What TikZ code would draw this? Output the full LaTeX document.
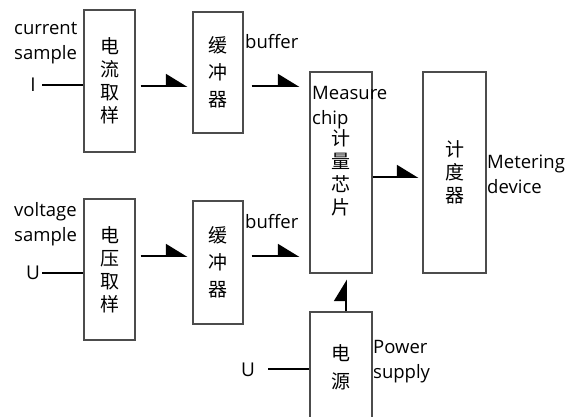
\documentclass[tikz,border=0pt]{standalone}
\usepackage{fontspec}
\setmainfont{Open Sans}
\newfontfamily\cjk{Noto Sans CJK SC}
\usetikzlibrary{positioning, arrows.meta}

\begin{document}
\begin{tikzpicture}[
    x=1pt, y=-1pt,
    block/.style={draw=black!70, line width=1.2pt, inner sep=0pt, align=center, font=\cjk\fontsize{19}{23}\selectfont},
    lbl/.style={inner sep=0pt, align=left, anchor=west, font=\fontsize{18.5}{25}\selectfont},
    src/.style={inner sep=0pt, font=\fontsize{19}{24}\selectfont},
    wire/.style={line width=1.7pt},
    arr/.style={-{Triangle[harpoon, length=20pt, width=24pt]}, line width=1.8pt, shorten <=5pt, shorten >=5pt}
  ]
    \useasboundingbox (0,0) rectangle (574,416);

    % current path
    \node[block, minimum width=51pt, minimum height=142pt] (curSample) at (109.5,81) {电\\流\\取\\样};
    \node[block, minimum width=50pt, minimum height=121pt, font=\cjk\fontsize{19}{27}\selectfont] (curBuf) at (218,72.5) {缓\\冲\\器};
    \node[src, minimum width=18pt] (inI) at (33,85) {I};
    \node[lbl] (curTxt) at (14,43) {current\\sample};
    \node[lbl] (curBufTxt) at (245,42) {buffer};

    % voltage path
    \node[block, minimum width=51pt, minimum height=141pt] (volSample) at (109.5,269.5) {电\\压\\取\\样};
    \node[block, minimum width=50pt, minimum height=123pt, font=\cjk\fontsize{19}{27}\selectfont] (volBuf) at (218,262.5) {缓\\冲\\器};
    \node[src, minimum width=18pt] (inU) at (33,273) {U};
    \node[lbl] (volTxt) at (14,224) {voltage\\sample};
    \node[lbl] (volBufTxt) at (245,222) {buffer};

    % chip, meter, supply
    \node[block, minimum width=62pt, minimum height=201pt] (chip) at (341,172.5) {计\\量\\芯\\片};
    \node[lbl] (chipTxt) at (312,108) {Measure\\chip};
    \node[block, minimum width=63pt, minimum height=201pt] (meter) at (454.5,172.5) {计\\度\\器};
    \node[lbl] (meterTxt) at (487,174) {Metering\\device};
    \node[block, minimum width=62pt, minimum height=110pt, font=\cjk\fontsize{19}{28}\selectfont] (power) at (341,367) {电\\源};
    \node[lbl] (powerTxt) at (373,362) {Power\\supply};
    \node[src, minimum width=40pt] (inP) at (248,370) {U};

    % connections
    \draw[wire] (inI) -- (curSample.west |- inI);
    \draw[wire] (inU) -- (volSample.west |- inU);
    \draw[wire] (inP.east |- 0,369) -- (power.west |- 0,369);
    \draw[arr] (curSample.east |- 0,86) -- (curBuf.west |- 0,86);
    \draw[arr, shorten <=8pt, shorten >=10pt] (curBuf.east |- 0,86) -- (chip.west |- 0,86);
    \draw[arr] (volSample.east |- 0,256) -- (volBuf.west |- 0,256);
    \draw[arr, shorten <=8pt, shorten >=10pt] (volBuf.east |- 0,256) -- (chip.west |- 0,256);
    \draw[arr, shorten <=0pt, shorten >=4pt] ([yshift=-4.5pt]chip.east) -- ([yshift=-4.5pt]meter.west);
    \draw[arr, shorten <=0pt, shorten >=6pt] ([xshift=5pt]power.north) -- ([xshift=5pt]chip.south);
\end{tikzpicture}
\end{document}
